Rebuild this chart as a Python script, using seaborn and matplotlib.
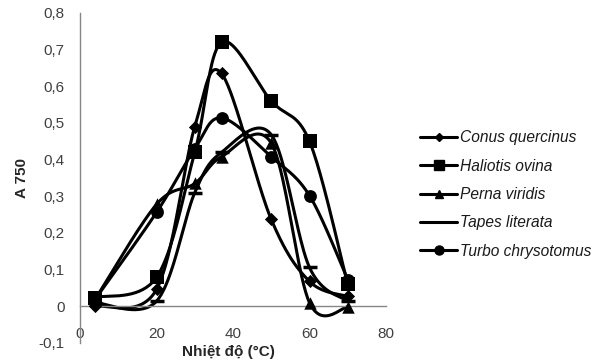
import numpy as np
import matplotlib
matplotlib.use("Agg")
import matplotlib.pyplot as plt
import seaborn as sns
from matplotlib.lines import Line2D

# ---- data ----
temps = [4, 20, 30, 37, 50, 60, 70]
conus = [0.0, 0.046, 0.49, 0.635, 0.237, 0.068, 0.027]
haliotis = [0.024, 0.079, 0.42, 0.72, 0.56, 0.45, 0.06]
perna = [0.02, 0.278, 0.335, 0.408, 0.445, 0.01, -0.002]
tapes = [0.01, 0.014, 0.31, 0.42, 0.468, 0.106, 0.014]
turbo = [0.02, 0.256, 0.43, 0.514, 0.408, 0.302, 0.073]
names = ["Conus quercinus", "Haliotis ovina", "Perna viridis",
         "Tapes literata", "Turbo chrysotomus"]
series = [conus, haliotis, perna, tapes, turbo]
markers = ["D", "s", "^", "_", "o"]
msizes = [45, 110, 80, 110, 85]
yticks = [-0.1, 0, 0.1, 0.2, 0.3, 0.4, 0.5, 0.6, 0.7, 0.8]
xticks = [0, 20, 40, 60, 80]


def smooth(x, y, n=40):
    # Excel-like smoothing (Catmull-Rom style Bezier between data points)
    x = np.asarray(x, float)
    y = np.asarray(y, float)
    P = np.column_stack([x, y])
    out = []
    for i in range(len(P) - 1):
        p0 = P[i - 1] if i > 0 else P[i]
        p1 = P[i]
        p2 = P[i + 1]
        p3 = P[i + 2] if i + 2 < len(P) else P[i + 1]
        c1 = p1 + (p2 - p0) / 6.0
        c2 = p2 - (p3 - p1) / 6.0
        t = np.linspace(0, 1, n)[:, None]
        seg = ((1 - t) ** 3) * p1 + 3 * ((1 - t) ** 2) * t * c1 + 3 * (1 - t) * t ** 2 * c2 + t ** 3 * p2
        out.append(seg if i == 0 else seg[1:])
    s = np.vstack(out)
    return s[:, 0], s[:, 1]


sns.set_theme(style="white")
plt.rcParams['font.family'] = ['Liberation Sans', 'DejaVu Sans']

W, H = 597, 363
fig = plt.figure(figsize=(W / 100, H / 100), dpi=100)
ax = fig.add_axes([80 / W, (H - 343) / H, 306 / W, 330 / H])

for ys, m, ms in zip(series, markers, msizes):
    sx, sy = smooth(temps, ys)
    sns.lineplot(x=sx, y=sy, ax=ax, color="black", linewidth=2.2, sort=False,
                 estimator=None)
    lw = 2.5 if m == "_" else 0
    sns.scatterplot(x=temps, y=ys, ax=ax, marker=m, s=ms, color="black",
                    edgecolor="black", linewidth=lw, zorder=5)

ax.set_xlim(0, 80)
ax.set_ylim(-0.1, 0.8)
ax.set_xticks(xticks)
ax.set_xticklabels([str(v) for v in xticks])
ax.set_yticks(yticks)
ax.set_yticklabels(["0" if v == 0 else f"{v:.1f}".replace(".", ",") for v in yticks])

for s in ["top", "right"]:
    ax.spines[s].set_visible(False)
ax.spines["bottom"].set_position(("data", 0))
for s in ["bottom", "left"]:
    ax.spines[s].set_color("#868686")
    ax.spines[s].set_linewidth(1.0)
ax.tick_params(axis="x", length=0, pad=15, labelsize=11, labelcolor="#404040")
ax.tick_params(axis="y", length=0, pad=11, labelsize=11, labelcolor="#404040")
ax.set_xlabel("")
ax.set_ylabel("")
ax.grid(False)

fig.text(228 / W, 1 - 352 / H, "Nhiệt độ (°C)", ha="center", va="center",
         fontsize=11, fontweight="bold", color="#262626")
fig.text(22 / W, 1 - 178 / H, "A 750", ha="center", va="center", rotation=90,
         fontsize=11, fontweight="bold", color="#262626")

handles = []
for n, m in zip(names, markers):
    ms = {"D": 4, "s": 6.5, "^": 6, "_": 0, "o": 6.5}[m]
    handles.append(Line2D([0], [0], color="black", linewidth=2.2,
                          marker=(m if m != "_" else None), markersize=ms))
leg = fig.legend(handles, names, loc="upper left",
                 bbox_to_anchor=(414 / W, 1 - 124 / H), frameon=False,
                 prop={"style": "italic", "size": 11.2}, handlelength=2.35,
                 handletextpad=0.2, labelspacing=0.86, borderaxespad=0)
for t in leg.get_texts():
    t.set_color("#1a1a1a")

fig.savefig("out.png", dpi=100)
